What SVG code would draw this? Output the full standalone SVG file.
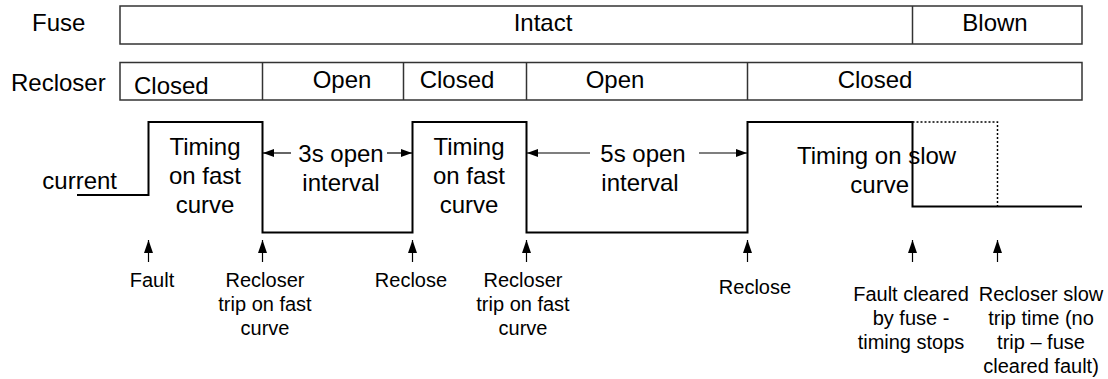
<svg xmlns="http://www.w3.org/2000/svg" width="1108" height="379" viewBox="0 0 1108 379">
<style>
text{font-family:"Liberation Sans",Arial,sans-serif;fill:#000}
.t{font-size:24px}
.s{font-size:20px}
.m{text-anchor:middle}
.e{text-anchor:end}
.box{fill:#fff;stroke:#333;stroke-width:1.5}
.div{stroke:#333;stroke-width:1.5}
.wave{fill:none;stroke:#000;stroke-width:2}
.dot{fill:none;stroke:#000;stroke-width:1.5;stroke-dasharray:2 2}
.arr{stroke:#000;stroke-width:1.2;marker-end:url(#ah)}
.up{stroke:#000;stroke-width:1.2;marker-end:url(#ahb)}
</style>
<defs>
<marker id="ah" markerWidth="11" markerHeight="8" refX="11" refY="4" orient="auto" markerUnits="userSpaceOnUse"><path d="M0,0 L11,4 L0,8 z" fill="#000"/></marker>
<marker id="ahb" markerWidth="13" markerHeight="9" refX="13" refY="4.5" orient="auto" markerUnits="userSpaceOnUse"><path d="M0,0 L13,4.5 L0,9 z" fill="#000"/></marker>
</defs>
<g id="fuse">
<text class="t" x="32" y="31">Fuse</text>
<rect class="box" x="120" y="6" width="962" height="38"/>
<line class="div" x1="912.5" y1="6" x2="912.5" y2="44"/>
<text class="t m" x="543" y="31">Intact</text>
<text class="t m" x="995" y="31">Blown</text>
</g>
<g id="recloser">
<text class="t" x="11" y="91">Recloser</text>
<rect class="box" x="120" y="62.5" width="962" height="37.5"/>
<line class="div" x1="262.5" y1="62.5" x2="262.5" y2="100"/>
<line class="div" x1="403.5" y1="62.5" x2="403.5" y2="100"/>
<line class="div" x1="526.5" y1="62.5" x2="526.5" y2="100"/>
<line class="div" x1="747.5" y1="62.5" x2="747.5" y2="100"/>
<text class="t" x="134" y="94">Closed</text>
<text class="t m" x="342" y="88">Open</text>
<text class="t m" x="457" y="88">Closed</text>
<text class="t m" x="615" y="88">Open</text>
<text class="t m" x="875" y="88">Closed</text>
</g>
<g id="waveform">
<text class="t e" x="117" y="189">current</text>
<path class="wave" d="M77,195 H148.5 V122 H262.5 V232.5 H412.5 V122 H526.5 V232.5 H747.5 V122 H912.5 V206.5 H1082"/>
<path class="dot" d="M912.5,122 H997.5 V206.5"/>
<text class="t m" x="205" y="155">Timing</text>
<text class="t m" x="205" y="184">on fast</text>
<text class="t m" x="205" y="213">curve</text>
<text class="t m" x="341" y="162">3s open</text>
<text class="t m" x="341" y="191">interval</text>
<text class="t m" x="469" y="155">Timing</text>
<text class="t m" x="469" y="184">on fast</text>
<text class="t m" x="469" y="213">curve</text>
<text class="t m" x="643" y="162">5s open</text>
<text class="t m" x="640" y="191">interval</text>
<text class="t" x="797" y="164">Timing on slow</text>
<text class="t e" x="909" y="193">curve</text>
</g>
<g id="connectors">
<line class="arr" x1="291" y1="153" x2="263" y2="153"/>
<line class="arr" x1="387" y1="153" x2="412" y2="153"/>
<line class="arr" x1="590" y1="153" x2="527" y2="153"/>
<line class="arr" x1="699" y1="153" x2="747" y2="153"/>
<line class="up" x1="148.5" y1="262" x2="148.5" y2="240"/>
<line class="up" x1="262.5" y1="262" x2="262.5" y2="240"/>
<line class="up" x1="412.5" y1="262" x2="412.5" y2="240"/>
<line class="up" x1="526.5" y1="262" x2="526.5" y2="240"/>
<line class="up" x1="747.5" y1="262" x2="747.5" y2="240"/>
<line class="up" x1="912.5" y1="262" x2="912.5" y2="240"/>
<line class="up" x1="997.5" y1="262" x2="997.5" y2="240"/>
</g>
<g id="labels">
<text class="s m" x="152" y="287">Fault</text>
<text class="s m" x="265" y="287">Recloser</text>
<text class="s m" x="265" y="311">trip on fast</text>
<text class="s m" x="265" y="335">curve</text>
<text class="s m" x="411" y="287">Reclose</text>
<text class="s m" x="523" y="287">Recloser</text>
<text class="s m" x="523" y="311">trip on fast</text>
<text class="s m" x="523" y="335">curve</text>
<text class="s m" x="755" y="294">Reclose</text>
<text class="s m" x="911" y="301">Fault cleared</text>
<text class="s m" x="911" y="325">by fuse -</text>
<text class="s m" x="911" y="349">timing stops</text>
<text class="s m" x="1041" y="301">Recloser slow</text>
<text class="s m" x="1041" y="325">trip time (no</text>
<text class="s m" x="1041" y="349">trip – fuse</text>
<text class="s m" x="1041" y="373">cleared fault)</text>
</g>
</svg>
